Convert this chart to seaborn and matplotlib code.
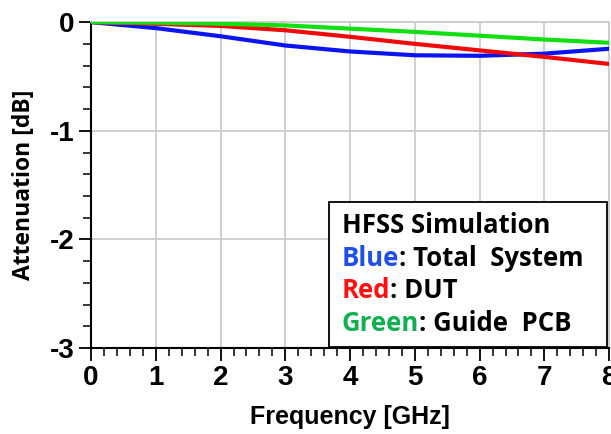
import matplotlib
matplotlib.use("Agg")
import matplotlib.pyplot as plt
import seaborn as sns
import pandas as pd
from matplotlib.offsetbox import TextArea, HPacker, VPacker, AnchoredOffsetbox
from matplotlib.patches import Rectangle
from matplotlib.ticker import MultipleLocator

freq = [0, 1, 2, 3, 4, 5, 6, 7, 8]
total_system = [0.0, -0.055, -0.13, -0.215, -0.27, -0.305, -0.31, -0.29, -0.245]
dut = [0.0, -0.015, -0.035, -0.075, -0.135, -0.2, -0.26, -0.32, -0.385]
guide_pcb = [0.0, -0.005, -0.015, -0.03, -0.06, -0.09, -0.125, -0.16, -0.19]

series_names = ["Total System", "DUT", "Guide PCB"]
line_colors = ["#0a14f0", "#f00a0a", "#10e010"]
legend_words = ["Blue", "Red", "Green"]
legend_word_colors = ["#1f4fe8", "#ff1010", "#10b050"]

x_ticks = [0, 1, 2, 3, 4, 5, 6, 7, 8]
y_ticks = [0, -1, -2, -3]

df = pd.DataFrame({
    "Frequency": freq * 3,
    "Attenuation": total_system + dut + guide_pcb,
    "Series": sum([[n] * len(freq) for n in series_names], []),
})

sns.set_theme(style="white")
plt.rcParams["axes.unicode_minus"] = False
fig = plt.figure(figsize=(6.11, 4.34), dpi=100)
ax = fig.add_axes([0.149, 0.198, 0.848, 0.751])

sns.lineplot(data=df, x="Frequency", y="Attenuation", hue="Series",
             palette=dict(zip(series_names, line_colors)), linewidth=3.0,
             legend=False, ax=ax, zorder=3)

ax.set_xlim(0, 8)
ax.set_ylim(-3, 0)
ax.set_xticks(x_ticks)
ax.set_yticks(y_ticks)
ax.xaxis.set_minor_locator(MultipleLocator(0.2))
ax.yaxis.set_minor_locator(MultipleLocator(0.2))
ax.grid(True, which="major", color="#cccccc", linewidth=1.3, zorder=0)
ax.tick_params(axis="both", which="major", direction="out", length=9, width=1.3,
               color="black", labelsize=20, pad=3, bottom=True, left=True,
               labelcolor="black")
ax.tick_params(axis="both", which="minor", direction="out", length=6, width=1.1,
               color="black", bottom=True, left=True)
for lbl in ax.get_xticklabels() + ax.get_yticklabels():
    lbl.set_fontweight("bold")
    lbl.set_fontfamily(["Liberation Sans Narrow", "Liberation Sans"])

for s in ["left", "bottom"]:
    ax.spines[s].set_color("black")
    ax.spines[s].set_linewidth(1.5)
for s in ["top", "right"]:
    ax.spines[s].set_color("#cccccc")
    ax.spines[s].set_linewidth(1.3)

ax.set_xlabel("Frequency [GHz]", fontsize=18, fontweight="bold", labelpad=10,
              color="black", family="Liberation Sans")
ax.set_ylabel("Attenuation [dB]", fontsize=16.5, fontweight="bold", labelpad=10,
              color="black", family="Open Sans")

# legend-like text box
ax.add_patch(Rectangle((0.459, 0.003), 0.537, 0.445, transform=ax.transAxes,
                       facecolor="white", edgecolor="black", linewidth=1.3,
                       zorder=5, clip_on=False))
fp = dict(fontsize=18.5, fontweight="bold", family="Open Sans")
rows = [TextArea("HFSS Simulation", textprops=dict(color="black", **fp))]
for w, wc, n in zip(legend_words, legend_word_colors, series_names):
    rows.append(HPacker(children=[
        TextArea(w, textprops=dict(color=wc, **fp)),
        TextArea(": " + n.replace(" ", "  "), textprops=dict(color="black", **fp)),
    ], align="baseline", pad=0, sep=0))
box = VPacker(children=rows, align="left", pad=0, sep=4)
anch = AnchoredOffsetbox(loc="upper left", child=box, pad=0.0, borderpad=0.0,
                         frameon=False,
                         bbox_to_anchor=(0.459 + 13 / 518, 0.448 - 10 / 326),
                         bbox_transform=ax.transAxes)
anch.zorder = 6
ax.add_artist(anch)

fig.savefig("out.png", dpi=100)
